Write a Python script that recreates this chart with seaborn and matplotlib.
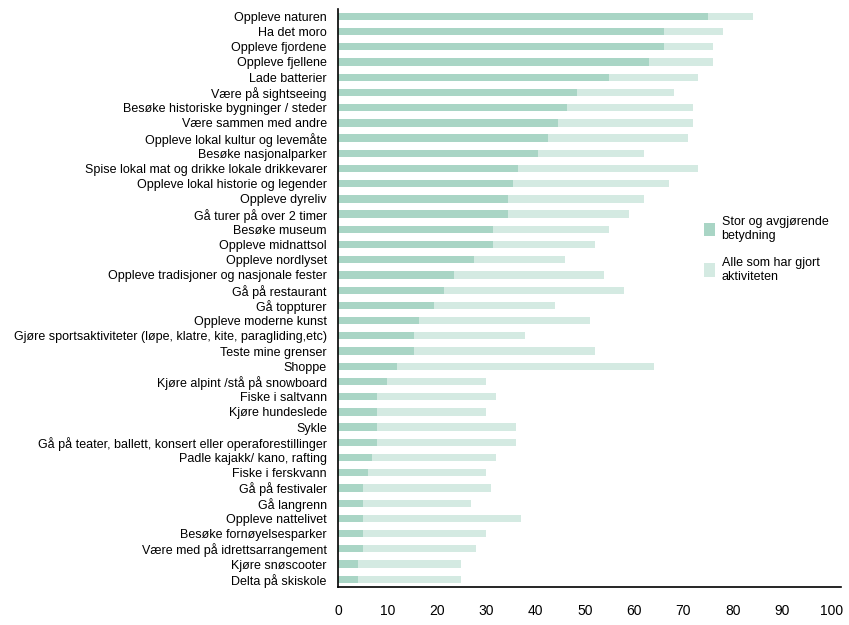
import pandas as pd
import numpy as np
import matplotlib.pyplot as plt
import seaborn as sns

aktiviteter = [
    "Oppleve naturen", "Ha det moro", "Oppleve fjordene", "Oppleve fjellene",
    "Lade batterier", "Være på sightseeing", "Besøke historiske bygninger / steder",
    "Være sammen med andre", "Oppleve lokal kultur og levemåte", "Besøke nasjonalparker",
    "Spise lokal mat og drikke lokale drikkevarer", "Oppleve lokal historie og legender",
    "Oppleve dyreliv", "Gå turer på over 2 timer", "Besøke museum", "Oppleve midnattsol",
    "Oppleve nordlyset", "Oppleve tradisjoner og nasjonale fester", "Gå på restaurant",
    "Gå toppturer", "Oppleve moderne kunst",
    "Gjøre sportsaktiviteter (løpe, klatre, kite, paragliding,etc)", "Teste mine grenser",
    "Shoppe", "Kjøre alpint /stå på snowboard", "Fiske i saltvann", "Kjøre hundeslede",
    "Sykle", "Gå på teater, ballett, konsert eller operaforestillinger",
    "Padle kajakk/ kano, rafting", "Fiske i ferskvann", "Gå på festivaler", "Gå langrenn",
    "Oppleve nattelivet", "Besøke fornøyelsesparker", "Være med på idrettsarrangement",
    "Kjøre snøscooter", "Delta på skiskole",
]

# "Stor og avgjørende betydning"
stor_betydning = [75, 66, 66, 63, 55, 48.5, 46.5, 44.5, 42.5, 40.5, 36.5, 35.5,
                  34.5, 34.5, 31.5, 31.5, 27.5, 23.5, 21.5, 19.5, 16.5, 15.5, 15.5,
                  12, 10, 8, 8, 8, 8, 7, 6, 5, 5, 5, 5, 5, 4, 4]

# "Alle som har gjort aktiviteten"
alle = [84, 78, 76, 76, 73, 68, 72, 72, 71, 62, 73, 67, 62, 59, 55, 52, 46, 54, 58,
        44, 51, 38, 52, 64, 30, 32, 30, 36, 36, 32, 30, 31, 27, 37, 30, 28, 25, 25]

df = pd.DataFrame({"aktivitet": aktiviteter, "stor": stor_betydning, "alle": alle})

lys = "#d4eae2"
mork = "#a9d5c5"

plt.rcParams["font.family"] = ["Liberation Sans", "DejaVu Sans"]

fig = plt.figure(figsize=(8.49, 6.25), dpi=100)
ax = fig.add_axes([0.398, 0.061, 0.593, 0.925])

sns.barplot(data=df, x="alle", y="aktivitet", color=lys, width=0.48,
            orient="h", ax=ax, saturation=1, label="Alle som har gjort\naktiviteten")
sns.barplot(data=df, x="stor", y="aktivitet", color=mork, width=0.48,
            orient="h", ax=ax, saturation=1, label="Stor og avgjørende\nbetydning")

ax.set_xlim(0, 102)
ax.set_ylim(len(aktiviteter) - 0.5, -0.5)
ax.set_xticks(range(0, 101, 10))
ax.set_xlabel("")
ax.set_ylabel("")
ax.tick_params(axis="both", length=0, labelsize=9, colors="black")
ax.tick_params(axis="x", pad=12, labelsize=10)
ax.tick_params(axis="y", pad=8)
for s in ["top", "right"]:
    ax.spines[s].set_visible(False)
for s in ["left", "bottom"]:
    ax.spines[s].set_color("black")
    ax.spines[s].set_linewidth(1.2)

handles, labels = ax.get_legend_handles_labels()
ax.legend(handles[::-1], labels[::-1], loc="upper left", bbox_to_anchor=(0.816, 0.672),
          bbox_transform=fig.transFigure, frameon=False, fontsize=9,
          handlelength=0.9, handleheight=1.3, handletextpad=0.5, labelspacing=1.2)

fig.savefig("out.png", dpi=100)
